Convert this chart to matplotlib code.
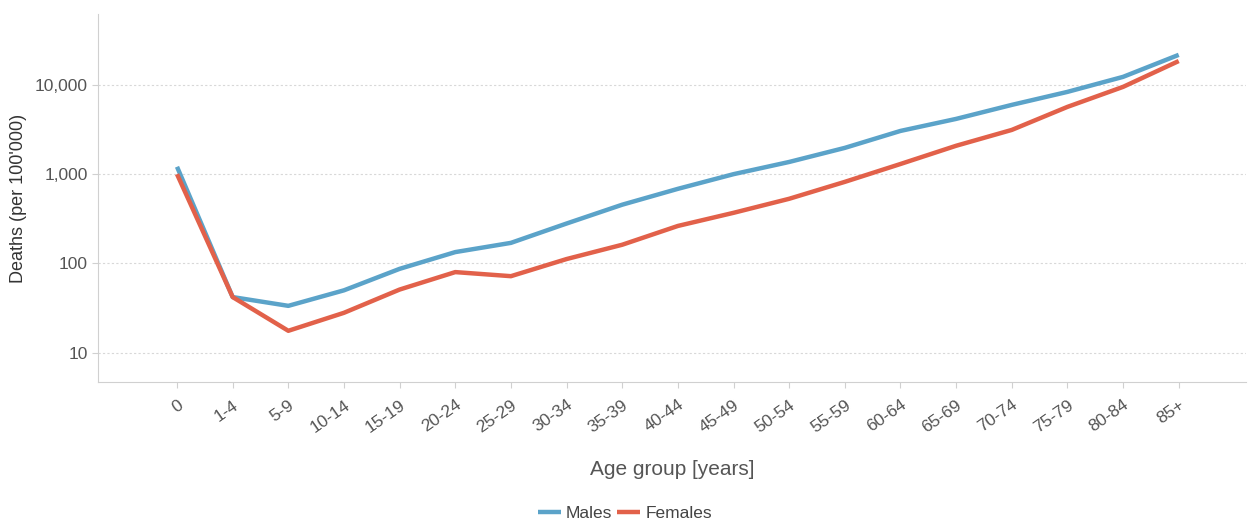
import matplotlib.pyplot as plt
from matplotlib.ticker import FuncFormatter, NullLocator

plt.rcParams['font.family'] = ['Liberation Sans', 'DejaVu Sans']

age_groups = ['0', '1-4', '5-9', '10-14', '15-19', '20-24', '25-29', '30-34', '35-39',
              '40-44', '45-49', '50-54', '55-59', '60-64', '65-69', '70-74', '75-79',
              '80-84', '85+']
males = [1210, 42, 33.5, 50, 87, 134, 170, 280, 455, 685, 1000, 1370, 1970, 3050,
         4160, 5970, 8350, 12300, 21700]
females = [1000, 42, 17.6, 28, 51, 80, 72, 112, 162, 263, 369, 530, 820, 1300,
           2080, 3130, 5670, 9500, 18500]
yticks = [10, 100, 1000, 10000]

fig = plt.figure(figsize=(12.5, 5.24), dpi=100)
ax = fig.add_axes([0.0784, 0.271, 0.918, 0.702])

x = list(range(len(age_groups)))
ax.plot(x, males, color='#5ba3c9', lw=3.2, label='Males', solid_capstyle='butt')
ax.plot(x, females, color='#e2614a', lw=3.2, label='Females', solid_capstyle='butt')

ax.set_yscale('log')
ax.set_ylim(4.7, 62000)
ax.set_xlim(-1.42, 19.2)
ax.set_yticks(yticks)
ax.yaxis.set_minor_locator(NullLocator())
ax.yaxis.set_major_formatter(FuncFormatter(lambda v, p: '{:,.0f}'.format(v)))
ax.set_xticks(x)
ax.set_xticklabels(age_groups, rotation=35, ha='right', va='top', rotation_mode='anchor')

ax.grid(axis='y', color='#d8d8d8', linestyle=(0, (2, 2)), lw=0.8)
ax.set_axisbelow(True)
for s in ['top', 'right']:
    ax.spines[s].set_visible(False)
for s in ['left', 'bottom']:
    ax.spines[s].set_color('#d0d0d0')
ax.tick_params(axis='both', colors='#d0d0d0', labelcolor='#555555', labelsize=12.5, length=4)
ax.tick_params(axis='x', pad=7)

ax.set_xlabel('Age group [years]', fontsize=15, color='#555555', labelpad=18)
ax.set_ylabel("Deaths (per 100'000)", fontsize=13, color='#333333')
ax.yaxis.set_label_coords(-0.062, 0.5)

fig.legend(loc='lower center', bbox_to_anchor=(0.5, -0.025), ncol=2, frameon=False,
           fontsize=12.5, handlelength=1.3, handletextpad=0.3, columnspacing=0.3,
           labelcolor='#444444')

fig.savefig('out.png', dpi=100)
